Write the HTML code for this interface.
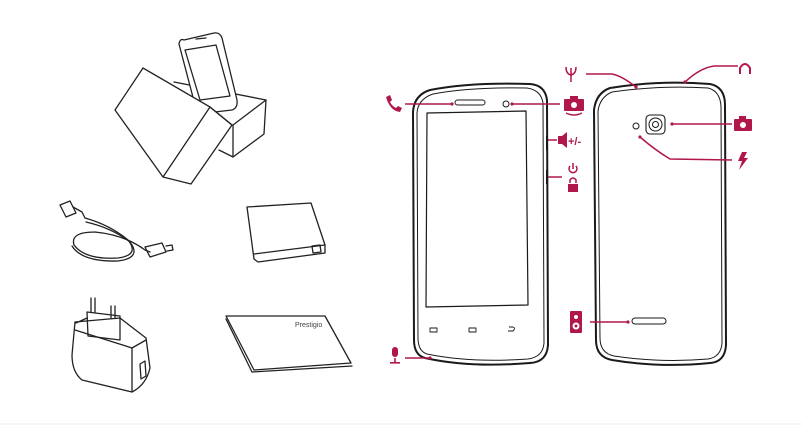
<!DOCTYPE html>
<html><head><meta charset="utf-8"><style>
html,body{margin:0;padding:0;background:#fff;}
svg{display:block;}
</style></head><body>
<svg width="802" height="427" viewBox="0 0 802 427" xmlns="http://www.w3.org/2000/svg" font-family="Liberation Sans, sans-serif">
<rect width="802" height="427" fill="#fff"/>
<line x1="0" y1="424" x2="802" y2="424" stroke="#eee" stroke-width="1"/>
<g fill="none" stroke="#222" stroke-width="1.3" stroke-linejoin="round" stroke-linecap="round">
<!-- box base -->
<path d="M174,82 L266,100 L264,134 L233,157 L219,150"/>
<path d="M233,125 L266,100"/>
<path d="M233,125 L233,157"/>
<!-- phone in box -->
<path d="M184,40 Q180,38 179,44 L195,105 Q199,114 206,113 L232,110 Q238,108 237,100 L222,38 Q220,32 214,33 Z" fill="#fff"/>
<path d="M185,50 L216,45 L230,96 L200,100 Z"/>
<path d="M196,39 L206,38"/>
<!-- lid -->
<path d="M143,68 L115,110 L163,177 L191,184 L232,125 L210,107 Z" fill="#fff"/>
<path d="M143,68 L210,107 L163,177"/>
<path d="M210,107 L232,125"/>
<!-- cable -->
<path d="M60,205 L70,201 L76,213 L66,217 Z"/>
<path d="M73,207 L82,212 L85,218"/>
<path d="M85,218 Q110,225 128,240 Q140,255 118,258 Q85,260 74,245 Q70,232 95,232 Q125,235 145,250 L150,252"/>
<path d="M86,222 Q112,228 130,242 Q142,258 118,261 Q82,262 72,246"/>
<path d="M145,247 L162,243 L166,252 L150,257 Z"/>
<path d="M166,246 L172,245 L173,250 L167,251"/>
<!-- battery -->
<path d="M247,207 L311,203 L325,245 L325,253 L258,262 L254,259 Z"/>
<path d="M254,254 L325,245"/>
<path d="M312,246 L320,245 L321,252 L313,253 Z"/>
<!-- charger -->
<path d="M91,298 L91,312 M95,298 L95,312 M111,306 L111,318 M115,306 L115,318"/>
<path d="M87,312 L120,316 L120,340 L88,336 Z"/>
<path d="M76,323 L87,318 M120,318 L146,338 L150,368 Q146,385 132,392 L82,380 Q72,372 72,355 L75,322 Z"/>
<path d="M75,330 L132,348 L146,340"/>
<path d="M132,348 L132,392"/>
<path d="M140,364 L145,361 L146,376 L141,379 Z"/>
<!-- manual -->
<path d="M226,316 L325,316 L351,363 L254,370 Z"/>
<path d="M226,319 L252,372 L352,366"/>
</g>
<text x="295" y="327" font-size="7" fill="#444">Prestigio</text>
<!-- front phone -->
<g fill="none" stroke="#1a1a1a" stroke-linejoin="round">
<path d="M430,90 Q470,82 530,84 Q545,85 547,100 L548,345 Q547,362 530,363 Q470,368 425,358 Q414,355 414,340 L413,112 Q414,95 430,90 Z" stroke-width="2"/>
<path d="M433,94 Q470,87 527,88 Q541,90 543,103 L544,343 Q543,357 528,359 Q470,363 427,354 Q418,351 418,338 L417,113 Q418,99 433,94 Z" stroke-width="1"/>
<path d="M427,113 L526,111 L528,305 L426,307 Z" stroke-width="1.2"/>
<rect x="455" y="100" width="30" height="5" rx="2.5" stroke-width="1"/>
<circle cx="506" cy="104" r="3" stroke-width="1"/>
<rect x="430" y="328" width="7" height="4" stroke-width="0.9"/>
<rect x="469" y="328" width="7" height="4" stroke-width="0.9"/>
<path d="M509,327 l4,0 q3,1 0,4 l-5,0" stroke-width="0.9"/>
<path d="M547,136 L547,150 M547,170 L547,184" stroke-width="2"/>
<!-- back phone -->
<path d="M610,88 Q660,80 710,84 Q725,87 725,105 L726,345 Q725,362 710,363 Q660,368 612,360 Q596,357 596,340 L594,110 Q596,93 610,88 Z" stroke-width="2"/>
<path d="M612,92 Q660,85 708,88 Q720,91 721,106 L722,343 Q721,357 708,359 Q660,363 614,356 Q600,353 600,338 L598,111 Q600,97 612,92 Z" stroke-width="1"/>
<rect x="646" y="115" width="19" height="19" rx="4" stroke-width="1.1"/>
<circle cx="655.5" cy="124.5" r="6.5" stroke-width="1"/>
<circle cx="655.5" cy="124.5" r="3" stroke-width="1"/>
<circle cx="636" cy="126" r="3" stroke-width="1"/>
<rect x="632" y="318" width="34" height="6" rx="3" stroke-width="1"/>
</g>
<!-- red callouts -->
<g stroke="#b0184a" stroke-width="1.5" fill="none">
<path d="M405,104 L452,104"/>
<path d="M512,104 L560,104"/>
<path d="M548,140 L557,140"/>
<path d="M548,177 L562,177"/>
<path d="M405,358 L430,358"/>
<path d="M586,74 L612,74 Q622,76 636,87"/>
<path d="M738,66 L714,66 Q700,68 685,82"/>
<path d="M672,124 L732,124"/>
<path d="M640,137 Q655,150 670,159 L732,160"/>
<path d="M590,322 L628,322"/>
</g>
<g fill="#b0184a">
<circle cx="452" cy="104" r="1.6"/><circle cx="512" cy="104" r="1.6"/>
<circle cx="430" cy="358" r="1.6"/><circle cx="636" cy="87" r="1.6"/>
<circle cx="685" cy="82" r="1.6"/><circle cx="672" cy="124" r="1.6"/>
<circle cx="640" cy="137" r="1.6"/><circle cx="628" cy="322" r="1.6"/>
<!-- phone icon -->
<path d="M386,97 L390,95 L392,100 L390,102 Q392,106 396,108 L398,106 L402,108 L400,112 Q390,111 386,97 Z"/>
<!-- camera switch -->
<rect x="564" y="99" width="20" height="12" rx="1"/>
<rect x="570" y="96" width="8" height="4"/>
<!-- volume -->
<path d="M558,136 L562,136 L567,132 L567,148 L562,144 L558,144 Z"/>
<!-- lock -->
<rect x="568" y="184" width="10" height="8"/>
<!-- mic -->
<rect x="392" y="347" width="6" height="10" rx="3"/>
<rect x="394.2" y="358" width="1.6" height="5"/>
<rect x="390" y="362" width="10" height="1.6"/>
<!-- camera back -->
<rect x="734" y="119" width="18" height="12" rx="1"/>
<rect x="739" y="116" width="7" height="4"/>
<!-- flash -->
<path d="M742,152 L747,152 L744,158 L748,158 L739,170 L742,161 L738,161 Z"/>
<!-- speaker -->
<rect x="570" y="311" width="12" height="22" rx="1"/>
</g>
<g fill="#fff"><circle cx="574" cy="105" r="3"/><circle cx="743" cy="125" r="3"/><circle cx="576" cy="317" r="2"/><circle cx="576" cy="326" r="3.5"/></g>
<g fill="#b0184a"><circle cx="576" cy="326" r="1.5"/></g>
<g stroke="#b0184a" stroke-width="1.5" fill="none">
<path d="M566,113 q8,4 16,0"/>
<path d="M570,183 L570,180 Q573,176 576,180 L576,183"/>
<path d="M570,166 A4,4 0 1 0 576,166"/><path d="M573,163 L573,169"/>
<path d="M571,68 L571,82 M566,67 Q566,74 571,75 Q576,74 576,67"/>
<path d="M740,74 L740,68 Q745,60 750,68 L750,74" stroke-width="2"/>
</g>
<text x="568" y="145" font-size="11" font-weight="bold" fill="#b0184a">+/-</text>
</svg>
</body></html>
